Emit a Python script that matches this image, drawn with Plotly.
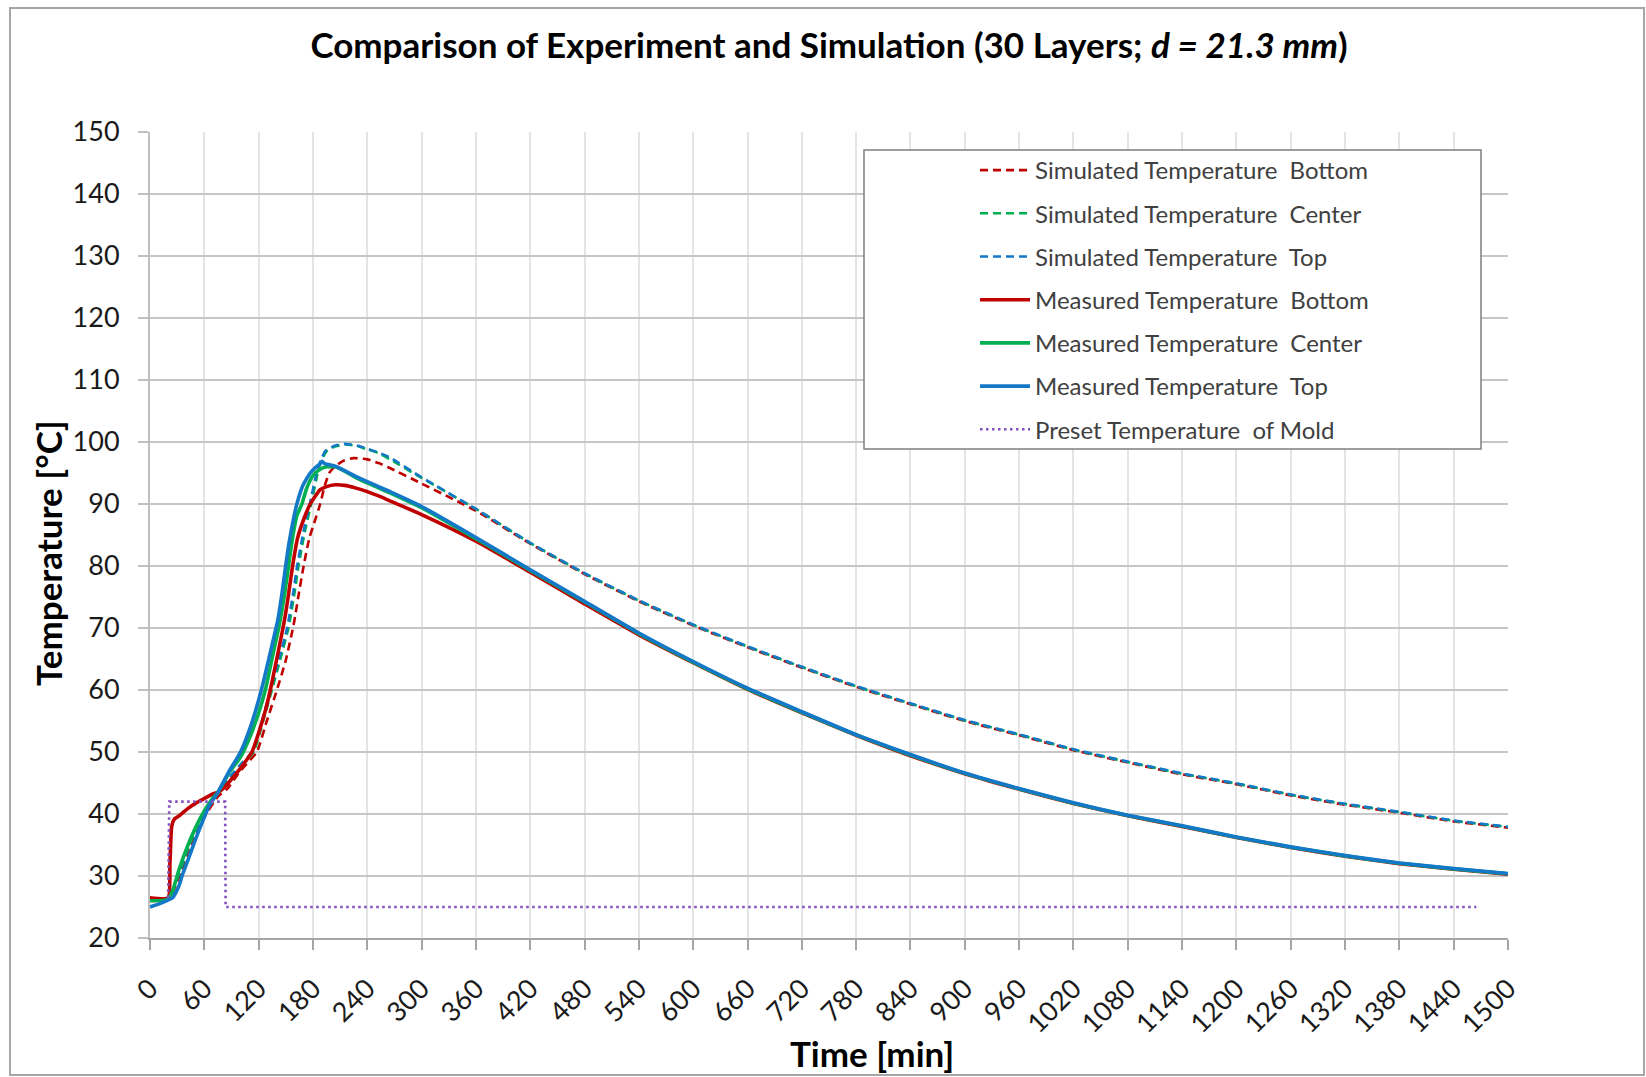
import plotly.graph_objects as go

# ---------------- data ----------------
t_sim_bottom = [0, 20, 30, 45, 60, 75, 85, 100, 118, 129, 140.2, 150, 158.6, 161, 164, 169.7, 176, 182.6,
                188, 192.9, 198, 204.7, 214, 225, 240, 252.5, 265, 300, 360, 420, 480, 540, 600, 660, 720,
                780, 840, 900, 960, 1020, 1080, 1140, 1200, 1260, 1320, 1380, 1440, 1500]
T_sim_bottom = [26.0, 26.2, 29.0, 35.0, 39.5, 42.8, 44.0, 47.0, 50.0, 55.0, 60.0, 64.8, 70.5, 72.5, 75.2, 80.0,
                84.5, 87.5, 90.0, 92.9, 95.0, 96.1, 97.0, 97.4, 97.2, 96.6, 95.8, 93.3, 88.9, 83.6, 78.7, 74.3,
                70.4, 66.9, 63.6, 60.5, 57.7, 55.0, 52.7, 50.3, 48.3, 46.4, 44.8, 43.0, 41.5, 40.2, 38.8, 37.8]

t_sim_center = [0, 20, 30, 45, 60, 75, 90, 100, 114.5, 125, 134.7, 144, 153, 155, 160, 164, 171, 178, 186,
                190, 195, 205, 217, 230, 240, 252.5, 265, 300, 360, 420, 480, 540, 600, 660, 720, 780, 840,
                900, 960, 1020, 1080, 1140, 1200, 1260, 1320, 1380, 1440, 1500]
T_sim_center = [26.0, 26.3, 29.5, 35.5, 40.0, 43.3, 46.0, 47.6, 50.0, 55.0, 60.0, 65.0, 70.0, 71.6, 76.0, 80.0,
                85.5, 90.0, 95.5, 97.2, 98.5, 99.3, 99.6, 99.3, 98.8, 98.2, 97.2, 94.2, 89.2, 83.7, 78.8, 74.4,
                70.5, 67.0, 63.7, 60.6, 57.8, 55.1, 52.8, 50.4, 48.4, 46.5, 44.9, 43.1, 41.6, 40.3, 38.9, 37.9]

t_sim_top = [0, 20, 30, 45, 60, 75, 90, 100, 113, 124, 133.5, 143, 151.5, 158.5, 162.5, 169.5, 176.5, 184.5,
             189, 194, 204, 215, 230, 240, 252.5, 265, 300, 360, 420, 480, 540, 600, 660, 720, 780, 840, 900,
             960, 1020, 1080, 1140, 1200, 1260, 1320, 1380, 1440, 1500]
T_sim_top = [26.0, 26.3, 29.8, 35.8, 40.2, 43.4, 46.3, 48.0, 50.0, 55.2, 60.2, 65.3, 70.0, 76.0, 80.0, 85.5,
             90.0, 95.3, 97.2, 98.6, 99.4, 99.7, 99.4, 98.9, 98.3, 97.5, 94.3, 89.2, 83.75, 78.85, 74.45, 70.55,
             67.05, 63.75, 60.65, 57.85, 55.15, 52.85, 50.45, 48.45, 46.55, 44.95, 43.15, 41.65, 40.35, 38.95,
             37.95]

t_meas_bottom = [0, 20, 22, 24, 27, 33, 42, 51, 60, 69, 75, 80, 90, 100, 112.6, 122, 128, 132.9, 140, 146.9,
                 149.4, 152.4, 157.5, 163, 169.7, 177, 188, 195, 204.7, 215, 226.7, 240, 252.5, 265, 300, 360,
                 420, 480, 540, 600, 660, 720, 780, 840, 900, 960, 1020, 1080, 1140, 1200, 1260, 1320, 1380,
                 1440, 1500]
T_meas_bottom = [26.5, 26.5, 32.0, 38.0, 39.2, 39.8, 40.9, 41.8, 42.5, 43.2, 43.5, 44.0, 45.6, 47.4, 50.0, 54.0,
                 57.0, 60.0, 65.0, 70.0, 72.0, 74.8, 80.0, 84.5, 87.5, 90.0, 92.3, 92.8, 93.1, 93.0, 92.6, 92.0,
                 91.3, 90.5, 88.3, 84.0, 79.0, 73.9, 68.9, 64.4, 60.1, 56.3, 52.7, 49.4, 46.5, 44.0, 41.7, 39.7,
                 38.0, 36.2, 34.6, 33.2, 32.0, 31.1, 30.3]

t_meas_center = [0, 19, 25, 32, 42, 51, 60, 69, 75, 88, 100, 110, 120, 127.4, 135, 142.8, 149, 153, 158, 162,
                 167.8, 173, 180, 188, 195, 205, 215, 226.7, 240, 252.5, 265, 300, 360, 420, 480, 540, 600, 660,
                 720, 780, 840, 900, 960, 1020, 1080, 1140, 1200, 1260, 1320, 1380, 1440, 1500]
T_meas_center = [26.0, 26.2, 27.6, 31.0, 35.0, 38.0, 40.5, 42.5, 43.5, 46.8, 49.2, 52.3, 56.3, 60.0, 65.2, 70.5,
                 75.8, 80.0, 85.0, 88.0, 90.0, 92.5, 94.6, 95.6, 96.0, 96.0, 95.3, 94.3, 93.4, 92.6, 91.8, 89.4,
                 84.4, 79.3, 74.2, 69.1, 64.5, 60.2, 56.4, 52.75, 49.5, 46.55, 44.05, 41.75, 39.75, 38.05, 36.25,
                 34.65, 33.25, 32.05, 31.15, 30.35]

t_meas_top = [0, 10, 18, 25, 32, 36, 42, 51, 60, 66, 75, 87, 100, 112, 123, 132, 141.3, 145.8, 149.4, 153, 158,
              161, 165, 168.6, 173, 177, 183, 188, 190, 193, 204.7, 215, 226.7, 240, 252.5, 265, 300, 360, 420,
              480, 540, 600, 660, 720, 780, 840, 900, 960, 1020, 1080, 1140, 1200, 1260, 1320, 1380, 1440, 1500]
T_meas_top = [25.0, 25.5, 26.0, 26.5, 28.4, 30.3, 32.6, 36.2, 39.5, 41.5, 43.5, 46.8, 50.0, 54.5, 60.0, 65.5,
              71.4, 75.6, 79.5, 83.2, 87.2, 89.3, 91.4, 92.9, 94.1, 95.0, 95.9, 96.5, 96.9, 96.5, 96.1, 95.4,
              94.5, 93.6, 92.8, 92.0, 89.6, 84.6, 79.4, 74.3, 69.2, 64.6, 60.3, 56.5, 52.8, 49.6, 46.6, 44.1,
              41.8, 39.8, 38.1, 36.3, 34.7, 33.3, 32.1, 31.2, 30.4]

t_preset = [20, 21.3, 83, 83.5, 1465]
T_preset = [26.5, 42.0, 42.0, 25.0, 25.0]

x_ticks = list(range(0, 1501, 60))
y_ticks = list(range(20, 151, 10))

names = ["Simulated Temperature  Bottom", "Simulated Temperature  Center", "Simulated Temperature  Top",
         "Measured Temperature  Bottom", "Measured Temperature  Center", "Measured Temperature  Top",
         "Preset Temperature  of Mold"]

title_text = "<b>Comparison of Experiment and Simulation (30 Layers; <i>d = 21.3 mm</i>)</b>"
x_title = "<b>Time [min]</b>"
y_title = "<b>Temperature [°C]</b>"

# ---------------- styles ----------------
RED, GREEN, BLUE, PURPLE = "#C00000", "#00B050", "#1478C8", "#8450BE"
FONT = "Lato"

series = [
    (t_sim_bottom, T_sim_bottom, RED, "8px,5px", 2.6),
    (t_sim_center, T_sim_center, GREEN, "8px,5px", 2.6),
    (t_sim_top, T_sim_top, BLUE, "8px,5px", 2.6),
    (t_meas_bottom, T_meas_bottom, RED, "solid", 3.6),
    (t_meas_center, T_meas_center, GREEN, "solid", 3.6),
    (t_meas_top, T_meas_top, BLUE, "solid", 3.6),
    (t_preset, T_preset, PURPLE, "2.5px,3.5px", 2.6),
]

fig = go.Figure()
for i, ((tx, ty, col, dash, w), nm) in enumerate(zip(series, names)):
    fig.add_trace(go.Scatter(
        x=tx, y=ty, mode="lines", name=nm, legendgroup=f"g{i}",
        line=dict(color=col, dash=dash, width=w,
                  shape="linear" if i == 6 else "spline", smoothing=0.5),
        hoverinfo="skip",
    ))

L, R, T, B = 150, 138, 132, 139
W, H = 1646, 1077
pw, ph = W - L - R, H - T - B


def px(xp):
    return (xp - L) / pw


def py(yp):
    return (H - B - yp) / ph


fig.update_layout(
    width=W, height=H,
    margin=dict(l=L, r=R, t=T, b=B, autoexpand=False),
    paper_bgcolor="white", plot_bgcolor="white",
    font=dict(family=FONT, color="#1a1a1a"),
    title=dict(text=title_text,
               x=0.5, xref="paper", xanchor="center",
               y=1 - 46 / H, yref="container", yanchor="middle",
               font=dict(family=FONT, size=35, color="#000000")),
    showlegend=True,
    legend=dict(x=px(975), y=py(148), xanchor="left", yanchor="top",
                bgcolor="rgba(0,0,0,0)", borderwidth=0,
                font=dict(family=FONT, size=24, color="#404040"),
                tracegroupgap=9, itemwidth=50, traceorder="grouped"),
    shapes=[
        dict(type="rect", xref="paper", yref="paper", x0=px(864), x1=px(1481), y0=py(449), y1=py(150),
             line=dict(color="#7F7F7F", width=1.5), fillcolor="white", layer="above"),
        dict(type="rect", xref="paper", yref="paper", x0=px(10), x1=px(1644), y0=py(1075), y1=py(8),
             line=dict(color="#A6A6A6", width=2), fillcolor="rgba(0,0,0,0)", layer="below"),
    ],
    annotations=[
        dict(text=x_title, xref="paper", yref="paper", x=px(872), y=py(1053),
             xanchor="center", yanchor="middle", showarrow=False,
             font=dict(family=FONT, size=35, color="#000000")),
        dict(text=y_title, xref="paper", yref="paper", x=px(48), y=py(553), textangle=-90,
             xanchor="center", yanchor="middle", showarrow=False,
             font=dict(family=FONT, size=35, color="#000000")),
    ],
)

fig.update_xaxes(
    range=[0, 1500], tickmode="array", tickvals=x_ticks, ticktext=[str(v) for v in x_ticks],
    tickangle=-45, showgrid=True, gridcolor="#E4E4E4", gridwidth=1.5, automargin=False,
    showline=True, linecolor="#A6A6A6", linewidth=2, zeroline=False,
    ticks="outside", ticklen=10, tickwidth=1.5, tickcolor="#A6A6A6", ticklabelstandoff=12,
    tickfont=dict(family=FONT, size=27, color="#1a1a1a"),
)
fig.update_yaxes(
    range=[20, 150], tickmode="array", tickvals=y_ticks, ticktext=[str(v) for v in y_ticks],
    showgrid=True, gridcolor="#C6C6C6", gridwidth=1.5, automargin=False,
    showline=True, linecolor="#BFBFBF", linewidth=2, zeroline=False,
    ticks="outside", ticklen=10, tickwidth=1.5, tickcolor="#BFBFBF", ticklabelstandoff=13,
    tickfont=dict(family=FONT, size=27, color="#1a1a1a"),
)

fig.write_html("out.html")
